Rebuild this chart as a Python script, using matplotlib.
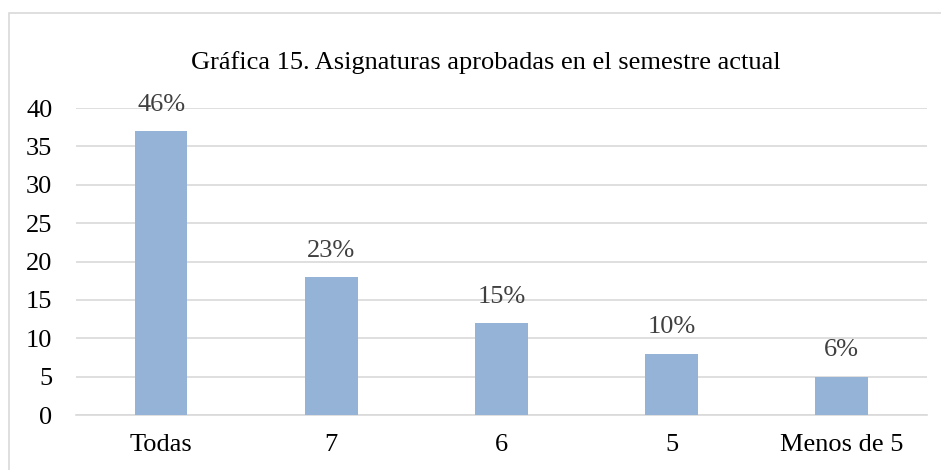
import matplotlib.pyplot as plt
import matplotlib.patches as mpatches
import numpy as np

categories = ['Todas', '7', '6', '5', 'Menos de 5']
values = [37, 18, 12, 8, 5]
pct_labels = ['46%', '23%', '15%', '10%', '6%']

plt.rcParams['font.family'] = ['Liberation Serif', 'DejaVu Serif']

fig = plt.figure(figsize=(9.41, 4.70), dpi=100)
ax = fig.add_axes([0.0808, 0.117, 0.904, 0.653])

x = np.arange(len(categories))
bars = ax.bar(x, values, width=0.31, color='#95b3d7', zorder=3)

for b, lab in zip(bars, pct_labels):
    ax.annotate(lab, (b.get_x() + b.get_width() / 2, b.get_height()),
                xytext=(0, 11), textcoords='offset points',
                ha='center', va='bottom', fontsize=19, color='#404040')

ax.set_xlim(-0.5, len(categories) - 0.5)
ax.set_ylim(0, 40)
ax.set_yticks(range(0, 41, 5))
ax.set_xticks(x)
ax.set_xticklabels(categories)
ax.tick_params(axis='both', length=0, labelsize=19, colors='black')
ax.tick_params(axis='y', pad=17)
ax.tick_params(axis='x', pad=14)
ax.grid(axis='y', color='#d9d9d9', linewidth=1.2, zorder=0)
for s in ['top', 'right', 'left']:
    ax.spines[s].set_visible(False)
ax.spines['bottom'].set_color('#d9d9d9')
ax.spines['bottom'].set_linewidth(1.2)

fig.text(0.516, 0.868, 'Gráfica 15. Asignaturas aprobadas en el semestre actual',
         ha='center', va='center', fontsize=19)

fig.patches.append(mpatches.Rectangle((8.5 / 941, -0.1), 1.2, (470 - 12.5) / 470 + 0.1,
                                      transform=fig.transFigure, fill=False,
                                      edgecolor='#d9d9d9', linewidth=1.2))

fig.savefig('out.png', dpi=100)
